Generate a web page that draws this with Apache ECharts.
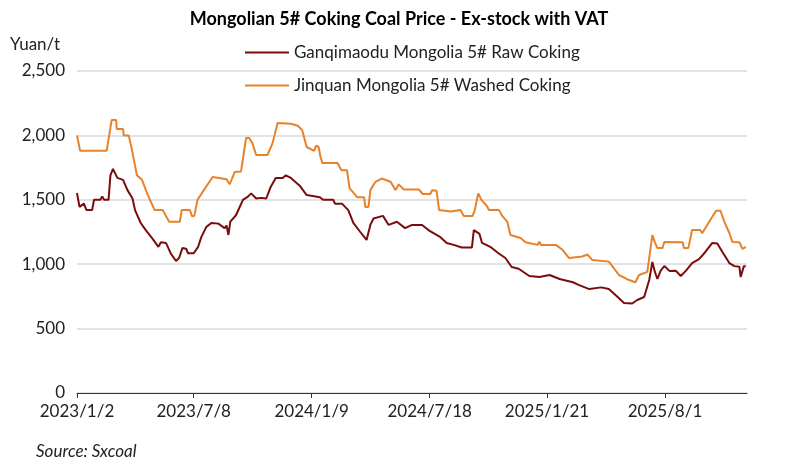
<!DOCTYPE html>
<html>
<head>
<meta charset="utf-8">
<script src="https://cdn.jsdelivr.net/npm/echarts@6/dist/echarts.min.js"></script>
<style>
  html, body { margin: 0; padding: 0; background: #fff; }
  #chart { width: 798px; height: 473px; }
</style>
</head>
<body>
<div id="chart"></div>
<script>
// [trading-position day from 2023/1/2, price]
const raw = [[0,1553],[4,1445],[11,1470],[15,1420],[24,1420],[27,1500],[37,1500],[40,1525],[43,1500],[50,1500],
  [53,1690],[57,1740],[64,1670],[73,1655],[80,1575],[88,1510],[92,1420],[101,1320],[109,1265],[119,1203],
  [129,1135],[133,1170],[141,1165],[149,1080],[157,1025],[162,1050],[167,1125],[173,1120],[176,1085],[185,1085],
  [192,1135],[197,1210],[205,1290],[213,1320],[224,1315],[234,1280],[237,1300],[240,1227],[243,1330],[252,1380],
  [263,1500],[271,1525],[276,1550],[284,1510],[292,1515],[300,1510],[307,1600],[315,1670],[326,1670],[331,1690],
  [339,1670],[353,1610],[364,1537],[385,1520],[390,1500],[406,1500],[409,1470],[420,1470],[430,1420],[438,1320],
  [449,1250],[459,1188],[465,1305],[470,1355],[485,1375],[494,1305],[507,1330],[520,1280],[531,1305],[547,1305],
  [557,1265],[576,1210],[586,1165],[597,1150],[610,1130],[626,1130],[629,1265],[638,1235],[642,1165],[655,1135],
  [668,1085],[679,1048],[689,978],[700,965],[717,908],[733,900],[749,916],[765,885],[786,860],[796,838],
  [812,807],[831,820],[843,807],[857,745],[867,699],[880,695],[888,722],[899,745],[907,877],[912,1017],
  [916,940],[920,885],[925,948],[931,986],[939,948],[949,950],[957,908],[965,948],[975,1009],[986,1040],
  [996,1095],[1007,1165],[1015,1160],[1023,1095],[1034,1009],[1042,985],[1050,980],[1052,900],[1057,985],[1060,985]];

const washed = [[0,2000],[5,1880],[47,1880],[55,2120],[62,2120],[63,2050],[73,2050],[74,2000],[82,2000],[87,1890],
  [95,1690],[103,1655],[112,1540],[123,1420],[136,1420],[146,1330],[163,1330],[166,1420],[179,1420],[182,1375],
  [186,1375],[191,1500],[201,1575],[215,1677],[237,1660],[242,1620],[250,1715],[260,1720],[268,1980],[273,1980],
  [278,1940],[284,1848],[302,1848],[310,1940],[318,2096],[339,2090],[350,2075],[357,2040],[364,1910],[376,1880],
  [379,1920],[383,1910],[386,1832],[389,1785],[413,1785],[416,1800],[419,1730],[428,1730],[432,1590],[444,1520],
  [455,1520],[457,1445],[462,1445],[465,1575],[473,1640],[483,1665],[497,1640],[505,1575],[510,1620],[518,1580],
  [542,1580],[548,1545],[560,1545],[563,1575],[570,1570],[574,1420],[592,1410],[595,1425],[608,1420],[613,1375],
  [627,1375],[630,1410],[636,1550],[641,1500],[650,1450],[653,1420],[669,1420],[674,1375],[682,1330],[687,1227],
  [703,1203],[711,1170],[730,1150],[733,1175],[735,1150],[759,1150],[770,1110],[780,1048],[801,1060],[809,1075],
  [817,1032],[843,1020],[859,916],[875,877],[885,860],[891,916],[904,940],[912,1227],[916,1170],[920,1125],
  [928,1125],[931,1172],[960,1170],[962,1125],[969,1125],[975,1265],[988,1265],[991,1240],[1002,1330],[1013,1415],
  [1020,1415],[1026,1330],[1034,1242],[1039,1172],[1050,1170],[1055,1118],[1060,1135]];

const labelDays = [0, 185, 372, 559, 745, 932];
const labelText = { 0: "2023/1/2", 185: "2023/7/8", 372: "2024/1/9", 559: "2024/7/18", 745: "2025/1/21", 932: "2025/8/1" };

const font = "Lato";
const chart = echarts.init(document.getElementById("chart"));
chart.setOption({
  animation: false,
  textStyle: { fontFamily: font },
  title: {
    text: "Mongolian 5# Coking Coal Price - Ex-stock with VAT",
    left: "center", top: 5,
    textStyle: { fontFamily: font, fontSize: 18, fontWeight: "bold", color: "#000" }
  },
  legend: {
    orient: "vertical", left: 240, top: 39, itemGap: 16,
    itemWidth: 44, itemHeight: 2, icon: "rect",
    textStyle: { fontFamily: font, fontSize: 17, color: "#222" }
  },
  graphic: [
    { type: "text", left: 10, top: 36, style: { text: "Yuan/t", font: "17px " + font, fill: "#222" } },
    { type: "text", left: 36, top: 443, style: { text: "Source: Sxcoal", font: "italic 17px " + font, fill: "#222" } }
  ],
  grid: { left: 77, right: 51, top: 71, bottom: 80 },
  xAxis: {
    type: "value", min: 0, max: 1062,
    splitLine: { show: false },
    axisLine: { lineStyle: { color: "#333" } },
    axisTick: { show: true, customValues: labelDays, lineStyle: { color: "#333" } },
    axisLabel: {
      customValues: labelDays, margin: 10,
      fontSize: 17, color: "#222", fontFamily: font,
      formatter: v => labelText[v] || ""
    }
  },
  yAxis: {
    type: "value", min: 0, max: 2500, interval: 500,
    axisLine: { show: false }, axisTick: { show: false },
    splitLine: { lineStyle: { color: "#d9d9d9", width: 1.5 } },
    axisLabel: { fontSize: 17, color: "#222", fontFamily: font, margin: 12,
      formatter: v => v.toLocaleString("en-US") }
  },
  series: [
    { name: "Ganqimaodu Mongolia 5# Raw Coking", type: "line", data: raw, symbol: "none",
      lineStyle: { color: "#7B0C0C", width: 2 }, itemStyle: { color: "#7B0C0C" } },
    { name: "Jinquan Mongolia 5# Washed Coking", type: "line", data: washed, symbol: "none",
      lineStyle: { color: "#E8822A", width: 2 }, itemStyle: { color: "#E8822A" } }
  ]
});
</script>
</body>
</html>
